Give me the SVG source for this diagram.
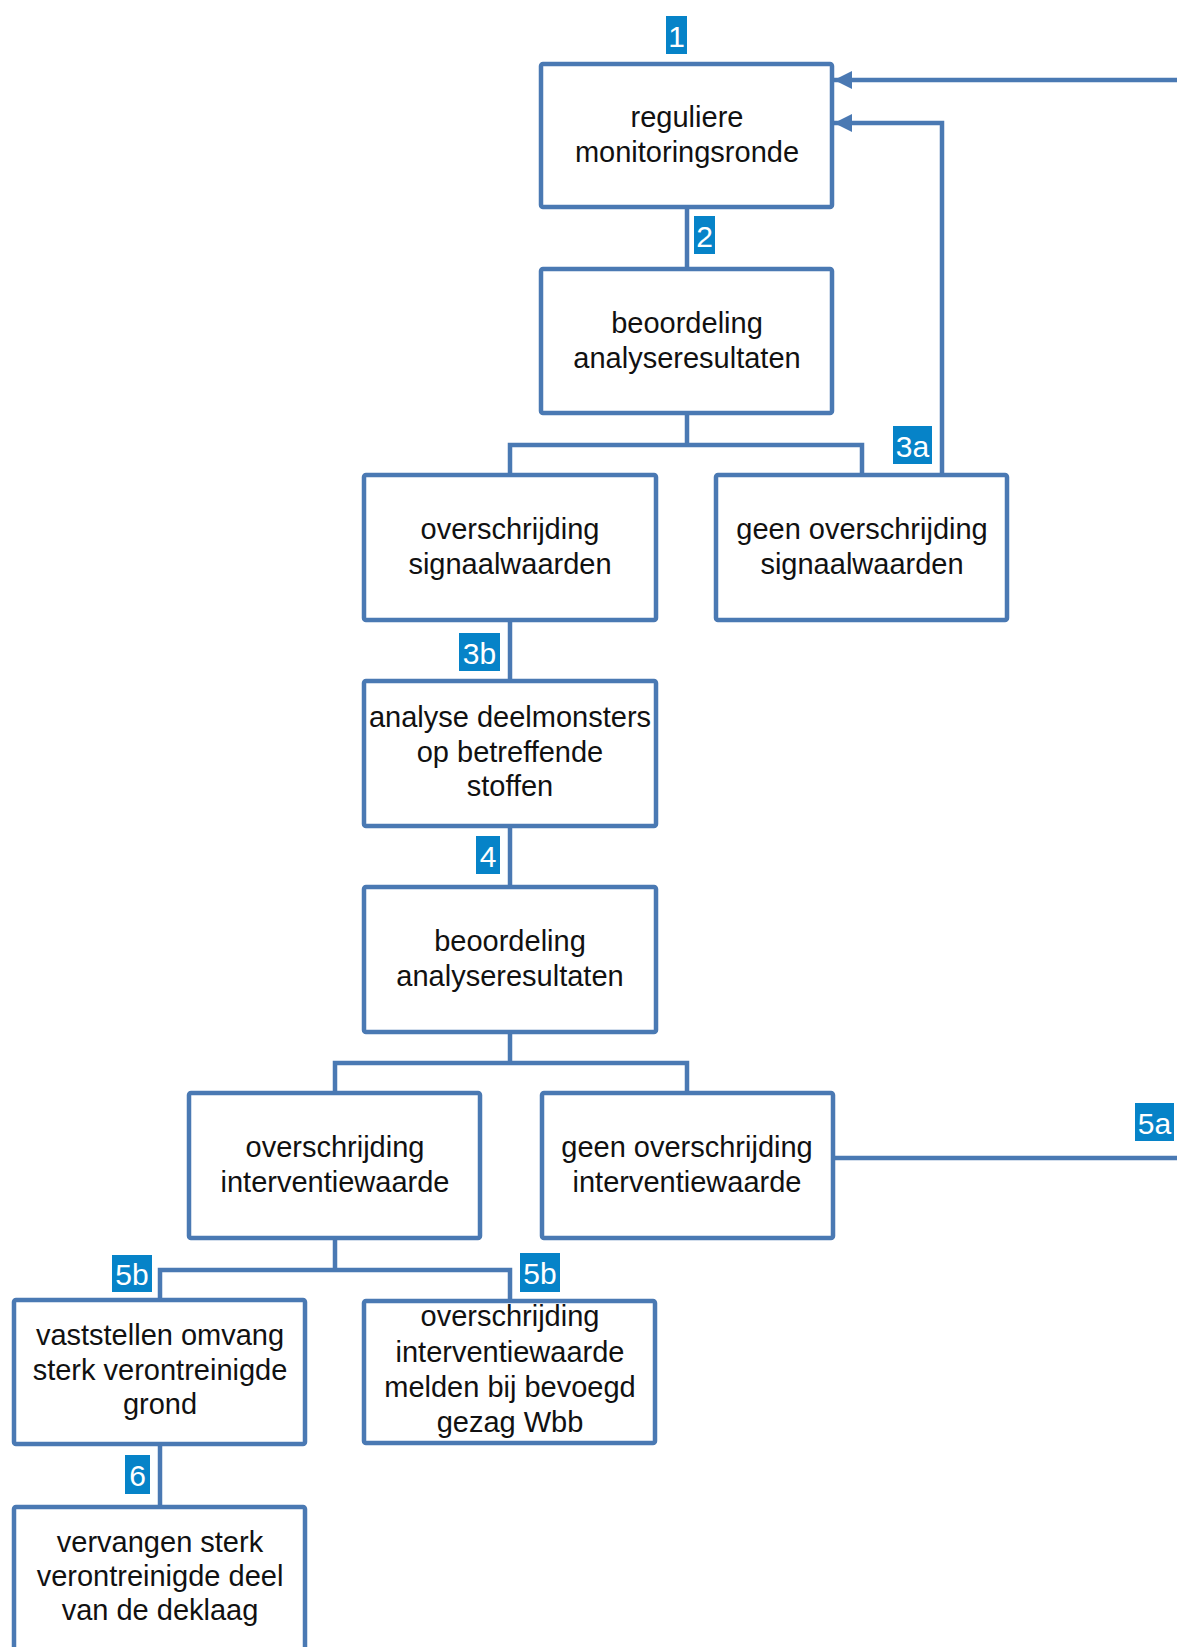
<svg xmlns="http://www.w3.org/2000/svg" width="1177" height="1647" viewBox="0 0 1177 1647">
<style>
.box{fill:#fff;stroke:#4a79b3;stroke-width:4.5}
.con{fill:none;stroke:#4a79b3;stroke-width:4.5;stroke-linejoin:miter}
.t{font-family:"Liberation Sans",Arial,sans-serif;font-size:29px;fill:#111;text-anchor:middle}
.lb{fill:#0683c8}
.lt{font-family:"Liberation Sans",Arial,sans-serif;font-size:30px;fill:#fff;text-anchor:middle}
</style>
<defs>
<marker id="arr" viewBox="0 0 18 18" refX="18" refY="9" markerWidth="18" markerHeight="18" markerUnits="userSpaceOnUse" orient="auto">
<path d="M0,0 L18,9 L0,18 z" fill="#4a79b3"/>
</marker>
</defs>
<rect width="1177" height="1647" fill="#fff"/>
<g id="connectors">
<path class="con" d="M687 207 V269"/>
<path class="con" d="M687 413 V445 M510 475 V445 H862 V475"/>
<path class="con" d="M942 475 V123 H834" marker-end="url(#arr)"/>
<path class="con" d="M1177 80 H834" marker-end="url(#arr)"/>
<path class="con" d="M510 620 V681"/>
<path class="con" d="M510 826 V887"/>
<path class="con" d="M510 1032 V1063 M335 1093 V1063 H687 V1093"/>
<path class="con" d="M833 1158 H1177"/>
<path class="con" d="M335 1238 V1270 M160 1300 V1270 H510 V1301"/>
<path class="con" d="M160 1444 V1507"/>
</g>
<g id="labels">
<g id="lbl1"><rect class="lb" x="666" y="16" width="21" height="38"/><text class="lt" x="676.5" y="47">1</text></g>
<g id="lbl2"><rect class="lb" x="694" y="216" width="21" height="38"/><text class="lt" x="704.5" y="247">2</text></g>
<g id="lbl3a"><rect class="lb" x="893" y="426" width="39" height="38"/><text class="lt" x="912.5" y="457">3a</text></g>
<g id="lbl3b"><rect class="lb" x="459" y="633" width="41" height="38"/><text class="lt" x="479.5" y="664">3b</text></g>
<g id="lbl4"><rect class="lb" x="476" y="836" width="24" height="38"/><text class="lt" x="488" y="867">4</text></g>
<g id="lbl5a"><rect class="lb" x="1135" y="1103" width="39" height="38"/><text class="lt" x="1154.5" y="1134">5a</text></g>
<g id="lbl5b1"><rect class="lb" x="112" y="1255" width="40" height="37"/><text class="lt" x="132" y="1285">5b</text></g>
<g id="lbl5b2"><rect class="lb" x="520" y="1253" width="40" height="39"/><text class="lt" x="540" y="1284">5b</text></g>
<g id="lbl6"><rect class="lb" x="125" y="1455" width="25" height="39"/><text class="lt" x="137.5" y="1486">6</text></g>
</g>
<g id="n1"><rect class="box" x="541" y="64" width="291" height="143" rx="2"/><text class="t" x="687"><tspan x="687" y="127">reguliere</tspan><tspan x="687" y="162">monitoringsronde</tspan></text></g>
<g id="n2"><rect class="box" x="541" y="269" width="291" height="144" rx="2"/><text class="t"><tspan x="687" y="333">beoordeling</tspan><tspan x="687" y="368">analyseresultaten</tspan></text></g>
<g id="n3"><rect class="box" x="364" y="475" width="292" height="145" rx="2"/><text class="t"><tspan x="510" y="539">overschrijding</tspan><tspan x="510" y="574">signaalwaarden</tspan></text></g>
<g id="n4"><rect class="box" x="716" y="475" width="291" height="145" rx="2"/><text class="t"><tspan x="862" y="539">geen overschrijding</tspan><tspan x="862" y="574">signaalwaarden</tspan></text></g>
<g id="n5"><rect class="box" x="364" y="681" width="292" height="145" rx="2"/><text class="t"><tspan x="510" y="727">analyse deelmonsters</tspan><tspan x="510" y="762">op betreffende</tspan><tspan x="510" y="796">stoffen</tspan></text></g>
<g id="n6"><rect class="box" x="364" y="887" width="292" height="145" rx="2"/><text class="t"><tspan x="510" y="951">beoordeling</tspan><tspan x="510" y="986">analyseresultaten</tspan></text></g>
<g id="n7"><rect class="box" x="189" y="1093" width="291" height="145" rx="2"/><text class="t"><tspan x="335" y="1157">overschrijding</tspan><tspan x="335" y="1192">interventiewaarde</tspan></text></g>
<g id="n8"><rect class="box" x="542" y="1093" width="291" height="145" rx="2"/><text class="t"><tspan x="687" y="1157">geen overschrijding</tspan><tspan x="687" y="1192">interventiewaarde</tspan></text></g>
<g id="n9"><rect class="box" x="14" y="1300" width="291" height="144" rx="2"/><text class="t"><tspan x="160" y="1345">vaststellen omvang</tspan><tspan x="160" y="1380">sterk verontreinigde</tspan><tspan x="160" y="1414">grond</tspan></text></g>
<g id="n10"><rect class="box" x="364" y="1301" width="291" height="142" rx="2"/><text class="t"><tspan x="510" y="1326">overschrijding</tspan><tspan x="510" y="1362">interventiewaarde</tspan><tspan x="510" y="1397">melden bij bevoegd</tspan><tspan x="510" y="1432">gezag Wbb</tspan></text></g>
<g id="n11"><rect class="box" x="14" y="1507" width="291" height="170" rx="2"/><text class="t"><tspan x="160" y="1552">vervangen sterk</tspan><tspan x="160" y="1586">verontreinigde deel</tspan><tspan x="160" y="1620">van de deklaag</tspan></text></g>
</svg>
